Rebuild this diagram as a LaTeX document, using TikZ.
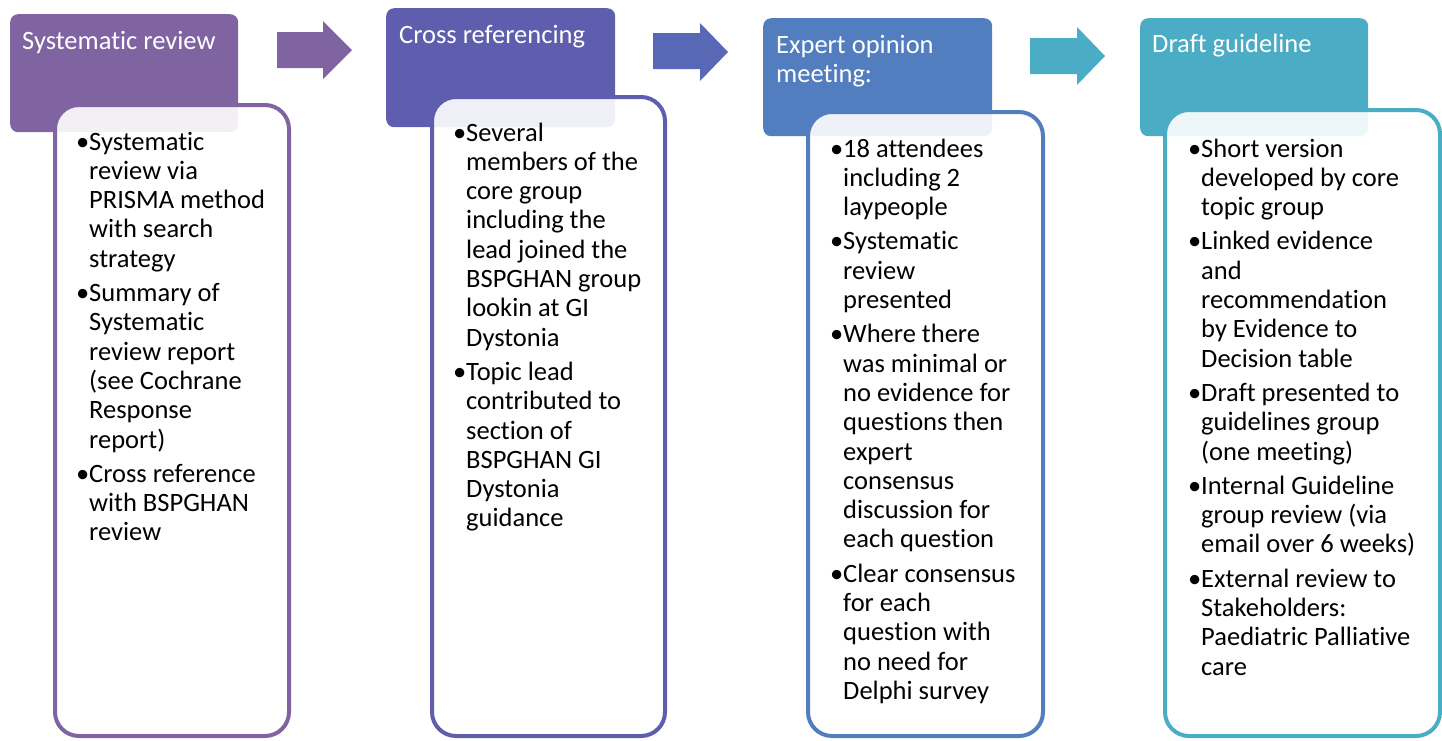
\documentclass[tikz,border=0pt]{standalone}
\usepackage{fontspec}
\setmainfont{Carlito}[Ligatures=NoCommon]
\definecolor{cA}{HTML}{8064A2}
\definecolor{cB}{HTML}{5F5DAE}
\definecolor{cC}{HTML}{527DBE}
\definecolor{cD}{HTML}{4BACC6}
\definecolor{aA}{HTML}{8064A2}
\definecolor{aB}{HTML}{5868B6}
\definecolor{aC}{HTML}{4BACC6}
\newcommand{\txtfont}{\fontsize{26.5pt}{29.3pt}\selectfont}
\newcommand{\bul}{\leavevmode\llap{•}}
\tikzset{
  hdr/.style={rounded corners=8pt, draw=none, anchor=north west, inner sep=0pt},
  bodybox/.style={rounded corners=24pt, line width=4pt, fill=white, fill opacity=0.9},
  hdrtext/.style={anchor=base west, inner sep=0pt, text=white, font=\txtfont, align=left},
  bodytext/.style={anchor=base west, inner sep=0pt, text=black}
}
\begin{document}
\begin{tikzpicture}[x=1pt,y=-1pt]
\useasboundingbox (0,0) rectangle (1442,740);
% headers
\node[hdr, fill=cA, minimum width=228pt, minimum height=118pt] (h1) at (10,14) {};
\node[hdr, fill=cB, minimum width=229pt, minimum height=119pt] (h2) at (386,8) {};
\node[hdr, fill=cC, minimum width=229pt, minimum height=118pt] (h3) at (763,18) {};
\node[hdr, fill=cD, minimum width=228pt, minimum height=118pt] (h4) at (1140,18) {};
% body boxes
\draw[bodybox, draw=cA] (55,105) rectangle (289,736);
\draw[bodybox, draw=cB] (432,97) rectangle (665,736);
\draw[bodybox, draw=cC] (808,112) rectangle (1043,736);
\draw[bodybox, draw=cD] (1165,110) rectangle (1440,736);
% arrows
\fill[aA] (277,32) -- (323,32) -- (323,21) -- (352,50) -- (323,79) -- (323,68) -- (277,68) -- cycle;
\fill[aB] (653,33) -- (700,33) -- (700,23) -- (728,52) -- (700,81) -- (700,69) -- (653,69) -- cycle;
\fill[aC] (1030,38) -- (1077,38) -- (1077,27) -- (1105,56) -- (1077,85) -- (1077,74) -- (1030,74) -- cycle;
% header texts
\node[hdrtext] (t1) at (22,49) {Systematic review};
\node[hdrtext] (t2) at (399,43) {Cross referencing};
\node[bodytext, text=white] (t3) at (776,53) {\parbox[t]{220pt}{\txtfont Expert opinion\\meeting:}};
\node[hdrtext] (t4) at (1152,52) {Draft guideline};
% body texts
\node[bodytext] (b1) at (89,150) {\parbox[t]{200pt}{\txtfont
\bul Systematic\\review via\\PRISMA method\\with search\\strategy\\[5pt]
\bul Summary of\\Systematic\\review report\\(see Cochrane\\Response\\report)\\[5pt]
\bul Cross reference\\with BSPGHAN\\review}};
\node[bodytext] (b2) at (466,141) {\parbox[t]{200pt}{\txtfont
\bul Several\\members of the\\core group\\including the\\lead joined the\\BSPGHAN group\\lookin at GI\\Dystonia\\[5pt]
\bul Topic lead\\contributed to\\section of\\BSPGHAN GI\\Dystonia\\guidance}};
\node[bodytext] (b3) at (843,157) {\parbox[t]{200pt}{\txtfont
\bul 18 attendees\\including 2\\laypeople\\[5pt]
\bul Systematic\\review\\presented\\[5pt]
\bul Where there\\was minimal or\\no evidence for\\questions then\\expert\\consensus\\discussion for\\each question\\[5pt]
\bul Clear consensus\\for each\\question with\\no need for\\Delphi survey}};
\node[bodytext] (b4) at (1201,157) {\parbox[t]{230pt}{\txtfont
\bul Short version\\developed by core\\topic group\\[5pt]
\bul Linked evidence\\and\\recommendation\\by Evidence to\\Decision table\\[5pt]
\bul Draft presented to\\guidelines group\\(one meeting)\\[5pt]
\bul Internal Guideline\\group review (via\\email over 6 weeks)\\[5pt]
\bul External review to\\Stakeholders:\\Paediatric Palliative\\care}};
\end{tikzpicture}
\end{document}
